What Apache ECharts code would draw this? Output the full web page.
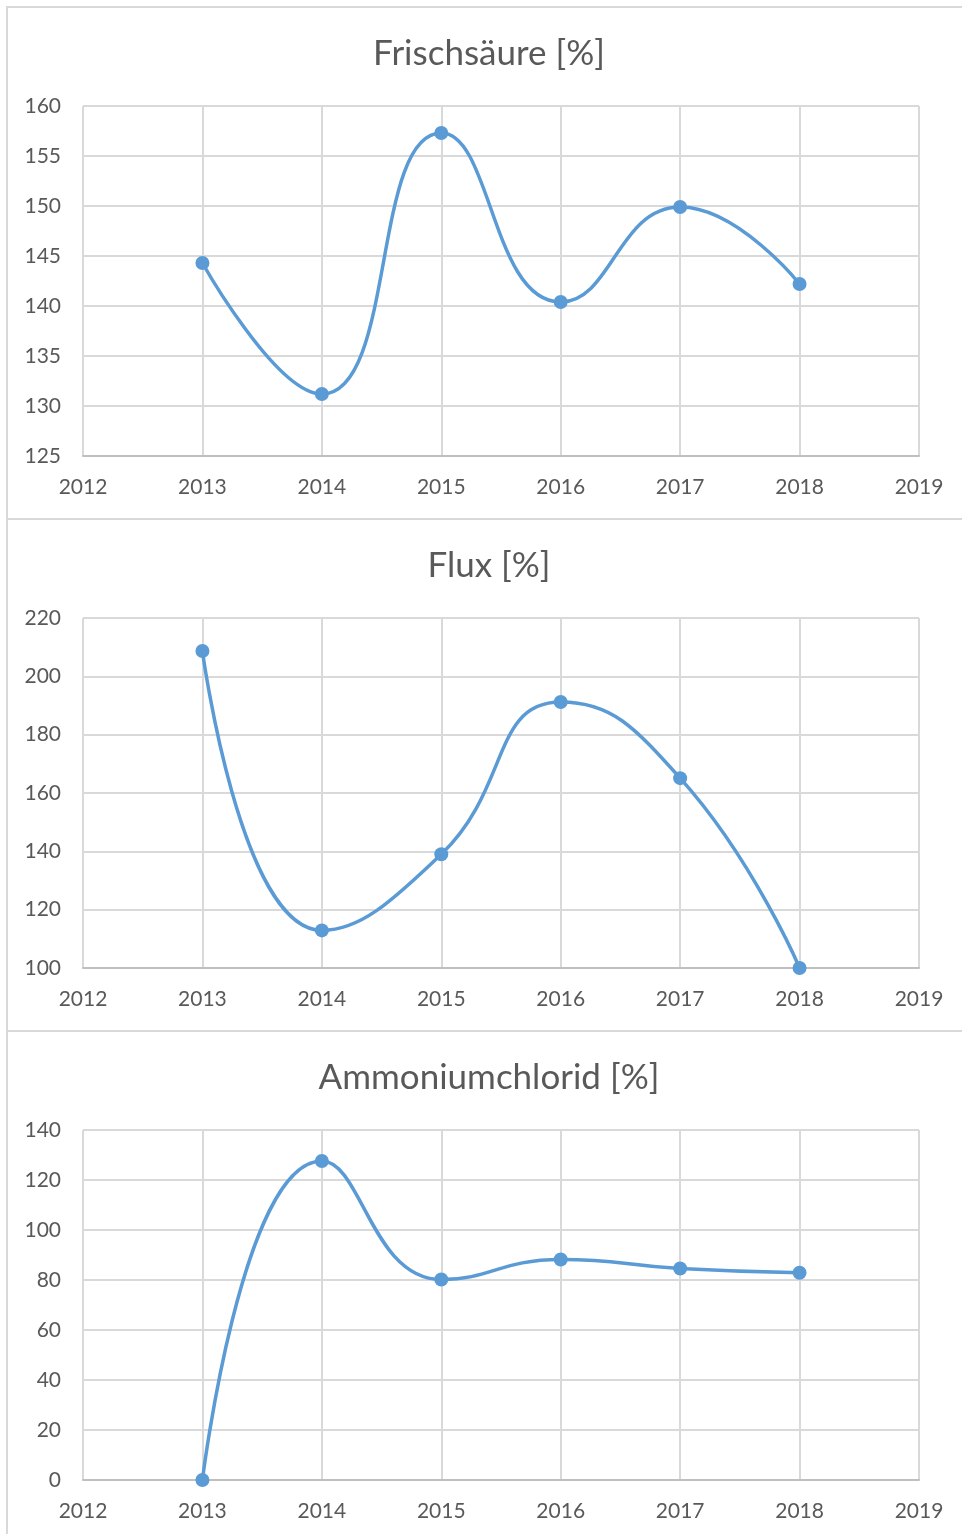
<!DOCTYPE html>
<html>
<head>
<meta charset="utf-8">
<script src="https://cdn.jsdelivr.net/npm/echarts@6/dist/echarts.min.js"></script>
<style>
  html, body { margin: 0; padding: 0; background: #fff; }
  #chart { width: 962px; height: 1534px; }
</style>
</head>
<body>
<div id="chart"></div>
<script>
// Jahre und Werte
let years = [2013, 2014, 2015, 2016, 2017, 2018];
let frischsaeure = [144.3, 131.2, 157.3, 140.4, 149.9, 142.2];
let flux = [208.7, 112.9, 139.0, 191.2, 165.1, 100.0];
let ammonium = [0, 127.6, 80.2, 88.2, 84.6, 82.9];

let titles = ['Frischsäure [%]', 'Flux [%]', 'Ammoniumchlorid [%]'];
let seriesData = [frischsaeure, flux, ammonium];
let yRanges = [
    {min: 125, max: 160, interval: 5},
    {min: 100, max: 220, interval: 20},
    {min: 0, max: 140, interval: 20}
];

let panelTop = [7, 519, 1031];
let panelH = 512;
let txt = '#595959';
let grid = '#d9d9d9';
let blue = '#5b9bd5';
let font = 'Lato, "Open Sans", sans-serif';

/* drei Diagramme untereinander */
let chart = echarts.init(document.getElementById('chart'));

let option = {
    animation: false,
    title: [],
    grid: [],
    xAxis: [],
    yAxis: [],
    series: [],
    graphic: []
};

for (let i = 0; i < 3; i++) {
    let top = panelTop[i];
    option.graphic.push({
        type: 'rect',
        shape: {x: 7, y: top, width: 990, height: panelH},
        style: {fill: 'none', stroke: '#d9d9d9', lineWidth: 2},
        z: -10
    });
    option.title.push({
        text: titles[i],
        left: 484,
        top: top + 24,
        textAlign: 'center',
        textStyle: {color: txt, fontFamily: font, fontSize: 35, fontWeight: 'normal'}
    });
    option.grid.push({
        left: 83,
        top: top + 99,
        width: 836,
        height: 350
    });
    option.xAxis.push({
        type: 'value',
        gridIndex: i,
        min: 2012,
        max: 2019,
        interval: 1,
        axisLine: {show: true, lineStyle: {color: '#bfbfbf', width: 2}},
        axisTick: {show: false},
        axisLabel: {color: txt, fontFamily: font, fontSize: 21, margin: 21, formatter: v => String(v)},
        splitLine: {show: true, lineStyle: {color: grid, width: 2}}
    });
    option.yAxis.push({
        type: 'value',
        gridIndex: i,
        min: yRanges[i].min,
        max: yRanges[i].max,
        interval: yRanges[i].interval,
        axisLine: {show: false},
        axisTick: {show: false},
        axisLabel: {color: txt, fontFamily: font, fontSize: 21, margin: 22},
        splitLine: {show: true, lineStyle: {color: grid, width: 2}}
    });
    option.series.push({
        type: 'line',
        xAxisIndex: i,
        yAxisIndex: i,
        smooth: 0.5,
        data: years.map((y, k) => [y, seriesData[i][k]]),
        symbol: 'circle',
        symbolSize: 14,
        lineStyle: {color: blue, width: 3.5},
        itemStyle: {color: blue}
    });
}

chart.setOption(option);
</script>
</body>
</html>
